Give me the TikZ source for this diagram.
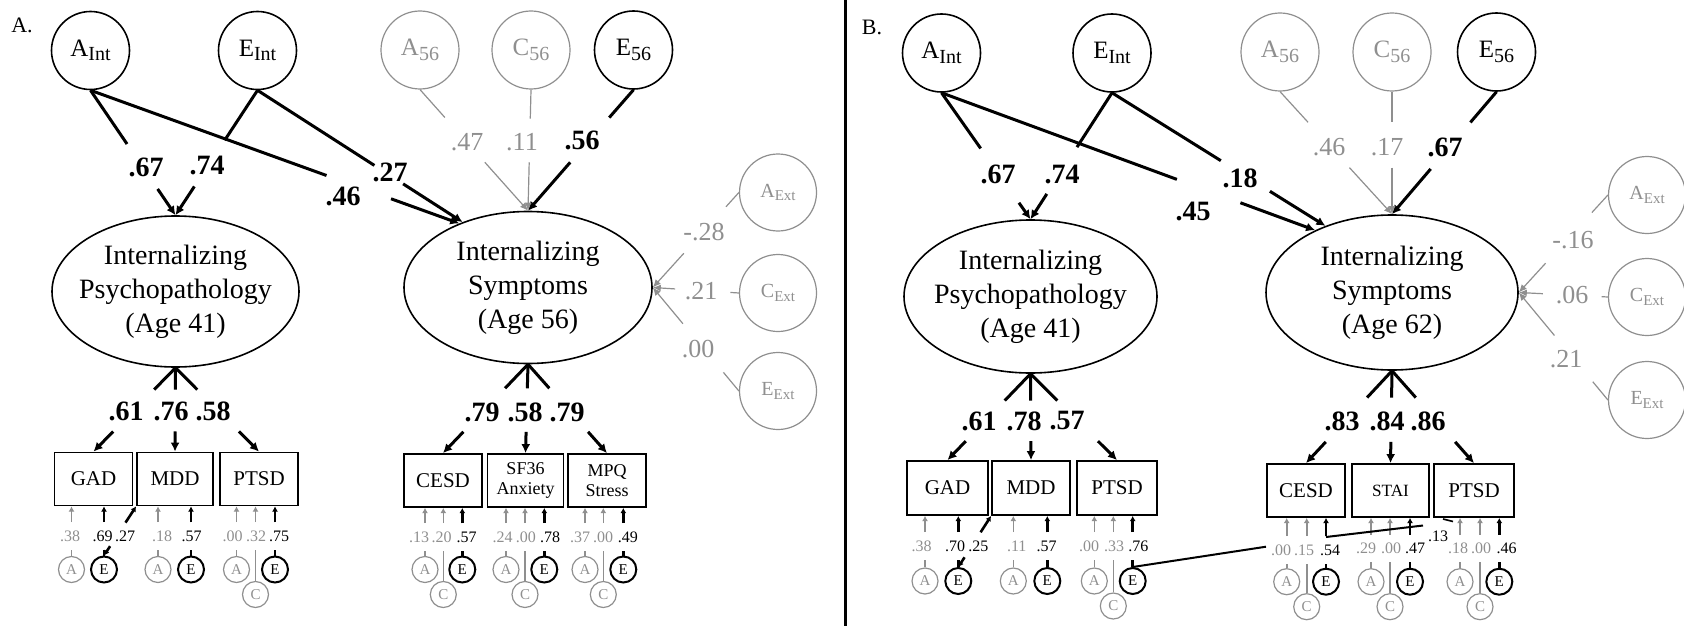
\documentclass[tikz,border=0pt]{standalone}
\usepackage{fontspec}
\setmainfont{Liberation Serif}
\usetikzlibrary{arrows.meta,calc,shapes.geometric}

\definecolor{ghost}{gray}{0.56}
\newcommand{\lsub}[2][10]{\raisebox{-.4ex}{\fontsize{#1}{#1}\selectfont #2}}
% one row of A/C/E residuals under an indicator box
\newcommand{\residrow}[4]{%
  \foreach \kind/\xc/\xl/\val [count=\i] in {#4} {
    \node[res, res\kind] (#1r\i) at (\xc,#2) {\kind};
    \node[rlab, rlab\kind] (#1l\i) at (\xl,#3) {\val};
    \draw[rln\kind, shorten >=3pt] (#1r\i) -- (#1r\i |- #1l\i.south);
    \draw[rln\kind, rarr] (#1r\i |- #1l\i.north) -- (#1r\i |- #1.south);
  }}

\begin{document}
\begin{tikzpicture}[x=0.5pt, y=-0.5pt,
    lat/.style={circle, draw, line width=.8pt, minimum size=39pt, inner sep=0pt, font=\fontsize{12.5}{14}\selectfont},
    latg/.style={lat, draw=ghost, text=ghost, line width=.6pt},
    ext/.style={circle, draw=ghost, text=ghost, line width=.6pt, minimum size=38.5pt, inner sep=0pt, font=\fontsize{10}{12}\selectfont},
    fac/.style={ellipse, draw, line width=.8pt, minimum width=124pt, minimum height=76pt, inner sep=0pt, inner xsep=-8pt, align=center, font=\fontsize{14}{17}\selectfont},
    ind/.style={rectangle, draw, line width=.9pt, minimum width=39pt, minimum height=26.5pt, inner sep=1pt, align=center, font=\fontsize{10.5}{12}\selectfont},
    res/.style={circle, draw, minimum size=13pt, inner sep=0pt, font=\fontsize{7.5}{8}\selectfont},
    resA/.style={draw=ghost, text=ghost, line width=.6pt},
    resC/.style={resA, yshift=-12.5pt},
    resE/.style={line width=1pt},
    rlab/.style={inner xsep=.5pt, inner ysep=1pt, font=\fontsize{8}{9}\selectfont},
    rlabA/.style={text=ghost}, rlabC/.style={text=ghost}, rlabE/.style={},
    rlnA/.style={ghost, line width=.8pt}, rlnC/.style={rlnA}, rlnE/.style={black, line width=1.3pt},
    rtip/.style={-{Latex[length=2.6pt,width=3pt]}},
    rarr/.style={rtip, shorten <=3pt},
    pth/.style={line width=1.5pt},
    ptip/.style={-{Latex[length=4.5pt,width=4.5pt]}},
    gpth/.style={ghost, line width=.6pt},
    gtip/.style={-{Latex[length=4pt,width=3.5pt]}},
    coef/.style={font=\fontsize{14}{16}\selectfont\bfseries},
    gcoef/.style={text=ghost, font=\fontsize{13}{15}\selectfont},
    tag/.style={font=\fontsize{11}{13}\selectfont}]
  \useasboundingbox (0,0) rectangle (1684,626);

  % panel A
  \node[tag] (tagA) at (22,25) {A.};
  \node[lat] (aintA) at (90.5,50.5) {A\lsub{Int}};
  \node[lat] (eintA) at (257.5,50.5) {E\lsub{Int}};
  \node[latg] (a56A) at (420,50) {A\lsub{56}};
  \node[latg] (c56A) at (531,50) {C\lsub{56}};
  \node[lat] (e56A) at (633.5,50) {E\lsub{56}};
  \node[fac, minimum width=123.5pt, minimum height=75.5pt] (psyA) at (175.5,291.5) {Internalizing\\Psychopathology\\(Age 41)};
  \node[fac] (symA) at (528,287.5) {Internalizing\\Symptoms\\(Age 56)};
  \node[ext] (aextA) at (778,192.5) {A\lsub[7.5]{Ext}};
  \node[ext] (cextA) at (778,293) {C\lsub[7.5]{Ext}};
  \node[ext] (eextA) at (778,391) {E\lsub[7.5]{Ext}};
  \node[ind] (gadA) at (93.5,479) {GAD};
  \node[ind, minimum width=38pt] (mddA) at (175,479) {MDD};
  \node[ind] (ptsdA) at (259,479) {PTSD};
  \node[ind] (cesdA) at (443,480.5) {CESD};
  \node[ind, minimum width=38pt, font=\fontsize{9}{10}\selectfont] (sfA) at (525.5,480.5) {SF36\\Anxiety};
  \node[ind, font=\fontsize{9}{10}\selectfont] (mpqA) at (607,480.5) {MPQ\\Stress};

  % panel B
  \coordinate (divT) at (845,0);
  \coordinate (divB) at (845,626);
  \draw[line width=1.5pt] (divT) -- (divB);
  \node[tag] (tagB) at (872,27) {B.};
  \node[lat] (aintB) at (941.5,53) {A\lsub{Int}};
  \node[lat] (eintB) at (1112,53) {E\lsub{Int}};
  \node[latg] (a56B) at (1280,52) {A\lsub{56}};
  \node[latg] (c56B) at (1392,52) {C\lsub{56}};
  \node[lat] (e56B) at (1496.5,52) {E\lsub{56}};
  \node[fac, minimum width=126.5pt, minimum height=76.5pt] (psyB) at (1030.5,296.5) {Internalizing\\Psychopathology\\(Age 41)};
  \node[fac, minimum width=126pt, minimum height=77.5pt] (symB) at (1392,292.5) {Internalizing\\Symptoms\\(Age 62)};
  \node[ext] (aextB) at (1647,195) {A\lsub[7.5]{Ext}};
  \node[ext] (cextB) at (1647,297) {C\lsub[7.5]{Ext}};
  \node[ext] (eextB) at (1647,400) {E\lsub[7.5]{Ext}};
  \node[ind, minimum width=40.5pt, minimum height=27pt] (gadB) at (947.5,488) {GAD};
  \node[ind, minimum height=27pt] (mddB) at (1031,488) {MDD};
  \node[ind, minimum width=40pt, minimum height=27pt] (ptsdB) at (1117,488) {PTSD};
  \node[ind] (cesdB) at (1306,490.5) {CESD};
  \node[ind, minimum width=38.5pt, font=\fontsize{8.6}{10}\selectfont] (staiB) at (1390.5,490.5) {STAI};
  \node[ind, minimum width=40pt] (ptsdsB) at (1474,490.5) {PTSD};

  % black paths: source / target / gap start / gap end / label
  \foreach \src/\tgt/\a/\b/\lx/\ly/\val [count=\i] in {
      aintA.south/psyA.north/.43/.79/146/167/.67,
      eintA.south/psyA.north/.40/.77/207/165/.74,
      aintA.south/symA.137/.64/.815/343/196/.46,
      eintA.south/symA.135/.57/.71/390/172/.27,
      e56A.south/symA.north/.23/.60/582/140/.56,
      psyA.south/gadA.north/.26/.76/126/411/.61,
      psyA.south/mddA.north/.26/.76/171/411/.76,
      psyA.south/ptsdA.north/.26/.76/213/411/.58,
      symA.south/cesdA.north/.27/.76/482/412/.79,
      symA.south/sfA.north/.27/.76/525/412/.58,
      symA.south/mpqA.north/.27/.76/567/412/.79,
      aintB.south/psyB.north/.44/.87/998/174/.67,
      eintB.south/psyB.north/.43/.80/1062/174/.74,
      aintB.south/symB.141/.63/.80/1193/211/.45,
      eintB.south/symB.135/.51/.74/1240/178/.18,
      e56B.south/symB.north/.25/.63/1445/147/.67,
      psyB.south/gadB.north/.31/.78/979/421/.61,
      psyB.south/mddB.north/.31/.78/1024/421/.78,
      psyB.south/ptsdB.north/.31/.78/1067/421/.57,
      symB.south/cesdB.north/.29/.77/1342/421/.83,
      symB.south/staiB.north/.29/.77/1387/421/.84,
      symB.south/ptsdsB.north/.29/.77/1428/421/.86} {
    \draw[pth] (\src) -- ($(\src)!\a!(\tgt)$);
    \draw[pth, ptip] ($(\src)!\b!(\tgt)$) -- (\tgt);
    \node[coef] (k\i) at (\lx,\ly) {\val};
  }

  % grey paths
  \foreach \src/\tgt/\a/\b/\lx/\ly/\val [count=\i] in {
      a56A.south/symA.north/.23/.60/467/142/.47,
      c56A.south/symA.north/.24/.60/522/142/.11,
      aextA.west/symA.east/.15/.64/704/232/-.28,
      cextA.west/symA.east/.10/.74/701/291/.21,
      eextA.west/symA.east/.18/.65/698/349/.00,
      a56B.south/symB.north/.25/.62/1329/147/.46,
      c56B.south/symB.north/.25/.62/1387/147/.17,
      aextB.west/symB.east/.18/.70/1573/240/-.16,
      cextB.west/symB.east/.07/.73/1572/295/.06,
      eextB.west/symB.east/.17/.60/1566/359/.21} {
    \draw[gpth] (\src) -- ($(\src)!\a!(\tgt)$);
    \draw[gpth, gtip] ($(\src)!\b!(\tgt)$) -- (\tgt);
    \node[gcoef] (g\i) at (\lx,\ly) {\val};
  }

  % residuals
  \residrow{gadA}{569.5}{536}{A/71.5/70/.38, E/104/102.5/.69}
  \residrow{mddA}{569.5}{536}{A/158/162/.18, E/191/191.7/.57}
  \residrow{ptsdA}{569.5}{536}{A/236.5/232.5/.00, C/255.5/256/.32, E/275/279/.75}
  \residrow{cesdA}{569.5}{537}{A/425/419/.13, C/443.3/441.7/.20, E/462.3/466.7/.57}
  \residrow{sfA}{569.5}{537}{A/506/502.5/.24, C/525/525.8/.00, E/544.3/550/.78}
  \residrow{mpqA}{569.5}{537}{A/585/580/.37, C/603.3/603/.00, E/623.3/627.8/.49}
  \residrow{gadB}{581}{546}{A/925/921.7/.38, E/958.3/955/.70}
  \residrow{mddB}{581}{546}{A/1013.3/1016.7/.11, E/1047.3/1046.7/.57}
  \residrow{ptsdB}{581}{546}{A/1094.3/1089/.00, C/1113.3/1114/.33, E/1132.7/1138.3/.76}
  \residrow{cesdB}{581.7}{550}{A/1286.7/1281/.00, C/1306.7/1304/.15, E/1326/1330/.54}
  \residrow{staiB}{581.7}{548.5}{A/1371/1366/.29, C/1390/1391/.00, E/1410/1415/.47}
  \residrow{ptsdsB}{581.7}{548.5}{A/1460/1458/.18, C/1480/1481/.00, E/1499.3/1506.7/.46}

  % cross paths from E of GAD to MDD
  \draw[rlnE, rtip] ($(gadAr2.north)!.19!(mddA.south west)$) -- (gadAr2.north);
  \draw[rlnE, rtip] ($(gadAr2.north)!.67!(mddA.south west)$) -- (mddA.south west);
  \node[rlab] (xA) at (125,536) {.27};
  \draw[rlnE, rtip] ($(gadBr2.north)!.19!(mddB.south west)$) -- (gadBr2.north);
  \draw[rlnE, rtip] ($(gadBr2.north)!.68!(mddB.south west)$) -- (mddB.south west);
  \node[rlab] (xB) at (978.3,546) {.25};

  % E of PTSD (41) to age 62
  \coordinate (kinkA) at (1266,546.7);
  \coordinate (kinkB) at (1326,537);
  \coordinate (kinkC) at (1423,525.5);
  \coordinate (dashA) at (1443,519);
  \coordinate (dashB) at (1453,521.5);
  \draw[line width=1pt] (ptsdBr3.north) -- (kinkA);
  \draw[line width=1pt] (kinkB) -- (kinkC);
  \draw[line width=.8pt] (dashA) -- (dashB);
  \node[rlab] (x13) at (1438,536) {.13};
\end{tikzpicture}
\end{document}
